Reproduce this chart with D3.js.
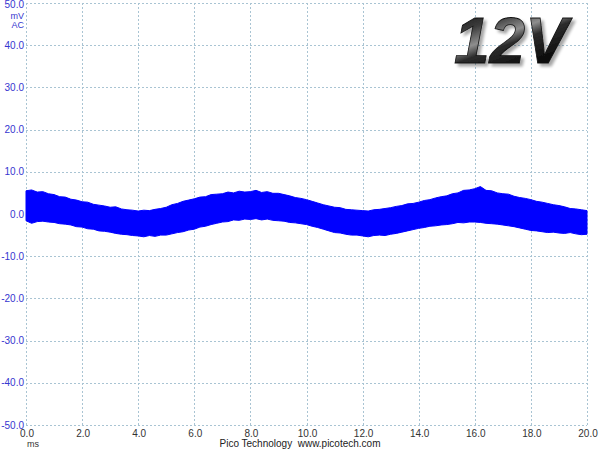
<!DOCTYPE html>
<html>
<head>
<meta charset="utf-8">
<script src="https://cdn.jsdelivr.net/npm/d3@7"></script>
<style>
html,body{margin:0;padding:0;background:#fff;}
svg{display:block;}
</style>
</head>
<body>
<svg id="chart" width="600" height="450"></svg>
<script>
// ---- data ----
const xTicks = [0,2,4,6,8,10,12,14,16,18,20];          // ms
const yTicks = [50,40,30,20,10,0,-10,-20,-30,-40,-50]; // mV
const sampleStep = 0.2; // ms between envelope samples
// upper envelope of the noisy trace (mV), every 0.2 ms from 0 to 20 ms
const upper = [
 5.5,5.7,5.2,5.3,4.8, 4.6,4.1,4.0,3.5,3.3, 2.9,2.8,2.3,2.1,1.9, 1.6,1.7,1.2,1.0,0.9,
 0.7,0.9,0.8,1.1,1.3, 1.6,2.2,2.5,3.0,3.3, 3.6,4.0,4.1,4.6,4.7, 4.8,5.2,5.0,5.4,5.2,
 5.3,5.6,5.1,5.3,4.9, 4.9,4.6,4.3,3.9,3.7, 3.4,3.0,2.6,2.2,1.9, 1.6,1.5,1.1,1.0,0.9,
 0.8,0.7,1.0,1.1,1.3, 1.5,1.8,2.0,2.4,2.5, 2.8,3.2,3.4,3.8,4.1, 4.3,4.8,5.0,5.6,5.7,
 6.0,6.5,5.6,5.5,5.0, 4.8,4.7,4.2,3.9,3.7, 3.4,3.0,2.8,2.5,2.2, 2.0,1.7,1.3,1.2,1.0,
 0.8
];
// lower envelope (mV)
const lower = [
 -1.6,-2.2,-1.8,-1.7,-1.9, -2.0,-2.3,-2.4,-2.6,-3.0, -3.1,-3.5,-3.6,-4.0,-4.1, -4.3,-4.6,-4.8,-4.9,-5.1,
 -5.2,-5.4,-5.1,-5.3,-5.0, -5.0,-4.7,-4.4,-4.2,-3.8, -3.6,-3.1,-2.9,-2.5,-2.2, -1.9,-1.8,-1.4,-1.5,-1.2,
 -1.3,-1.1,-1.4,-1.2,-1.5, -1.6,-1.7,-2.0,-2.1,-2.3, -2.5,-2.9,-3.2,-3.6,-4.0, -4.4,-4.5,-4.8,-5.0,-5.0,
 -5.2,-5.4,-5.1,-5.0,-5.1, -4.8,-4.6,-4.3,-4.0,-3.7, -3.4,-3.2,-2.9,-2.8,-2.6, -2.5,-2.3,-2.0,-2.1,-1.9,
 -1.9,-2.0,-2.2,-2.3,-2.4, -2.6,-2.8,-3.0,-3.3,-3.6, -3.9,-4.0,-4.2,-4.4,-4.3, -4.5,-4.6,-4.4,-4.7,-4.9,
 -4.8
];
const unitLabels = ["mV","AC"];
const xUnit = "ms";
const footer = "Pico Technology  www.picotech.com";
const badge = "12V";

// ---- drawing ----
const svg = d3.select("#chart");
const x = d3.scaleLinear().domain([0,20]).range([26,587]);
const y = d3.scaleLinear().domain([-50,50]).range([425,3]);
const font = "Liberation Sans, Arial, sans-serif";

const defs = svg.append("defs");
const grad = defs.append("linearGradient").attr("id","metal").attr("x1","0").attr("y1","0").attr("x2","0.6").attr("y2","1");
[["0%","#050505"],["30%","#3c3c3c"],["48%","#8e8e8e"],["60%","#2c2c2c"],["100%","#000"]].forEach(([o,c])=>grad.append("stop").attr("offset",o).attr("stop-color",c));
const sh = defs.append("filter").attr("id","sh").attr("x","-10%").attr("y","-10%").attr("width","130%").attr("height","140%");
sh.append("feGaussianBlur").attr("in","SourceAlpha").attr("stdDeviation",1.5).attr("result","b");
sh.append("feOffset").attr("in","b").attr("dx",3).attr("dy",3).attr("result","o");
sh.append("feComponentTransfer").attr("in","o").attr("result","s")
  .append("feFuncA").attr("type","linear").attr("slope",0.35);
const m = sh.append("feMerge");
m.append("feMergeNode").attr("in","s");
m.append("feMergeNode").attr("in","SourceGraphic");

// grid
const gridColor = "#a9c4d3";
svg.append("g").selectAll("line").data(xTicks).join("line")
  .attr("x1",d=>Math.round(x(d))+0.5).attr("x2",d=>Math.round(x(d))+0.5).attr("y1",y(50)).attr("y2",y(-50))
  .attr("stroke",gridColor).attr("stroke-width",1).attr("stroke-dasharray","2,2");
svg.append("g").selectAll("line").data(yTicks).join("line")
  .attr("y1",d=>Math.round(y(d))+0.5).attr("y2",d=>Math.round(y(d))+0.5).attr("x1",x(0)).attr("x2",x(20))
  .attr("stroke",gridColor).attr("stroke-width",1).attr("stroke-dasharray","2,2");

// y tick labels
svg.append("g").selectAll("text").data(yTicks).join("text")
  .attr("x",24).attr("y",d=>Math.max(y(d)+3.5,7.5)).attr("text-anchor","end")
  .attr("font-family",font).attr("font-size",10)
  .attr("fill","#3636d0").text(d=>d.toFixed(1));
svg.append("g").selectAll("text").data(unitLabels).join("text")
  .attr("x",24).attr("y",(d,i)=>19+i*9).attr("text-anchor","end")
  .attr("font-family",font).attr("font-size",9)
  .attr("fill","#3636d0").text(d=>d);

// x tick labels
svg.append("g").selectAll("text").data(xTicks).join("text")
  .attr("x",d=>x(d)+1).attr("y",437).attr("text-anchor","middle")
  .attr("font-family",font).attr("font-size",10)
  .attr("fill","#333").text(d=>d.toFixed(1));
svg.append("text").attr("x",27).attr("y",447).attr("font-family",font)
  .attr("font-size",9).attr("fill","#333").text(xUnit);
svg.append("text").attr("x",300).attr("y",447).attr("text-anchor","middle")
  .attr("font-family",font).attr("font-size",10)
  .attr("fill","#222").attr("xml:space","preserve").style("white-space","pre").text(footer);

// trace band
const pts = upper.map((u,i)=>({t:i*sampleStep,u:u,l:lower[i]}));
const area = d3.area().x(d=>x(d.t)).y0(d=>y(d.l)).y1(d=>y(d.u));
svg.append("path").datum(pts).attr("d",area).attr("fill","#0000ff")
  .attr("stroke","#0000ff").attr("stroke-width",1).attr("stroke-linejoin","miter");

// badge
svg.append("text").attr("x",454).attr("y",63).attr("font-family",font)
  .attr("font-weight","bold").attr("font-style","italic").attr("font-size",64)
  .attr("fill","url(#metal)").attr("stroke","#111").attr("stroke-width",0.8)
  .attr("filter","url(#sh)").text(badge);
</script>
</body>
</html>
